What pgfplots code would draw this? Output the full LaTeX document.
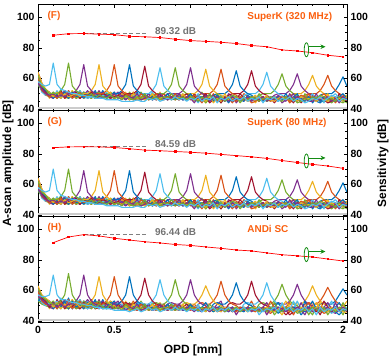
\documentclass[border=0pt]{standalone}
\usepackage{fontspec}
\setmainfont{Liberation Sans}
\usepackage{pgfplots}
\usepackage{pgfplotstable}
\pgfplotsset{compat=1.18}
\usetikzlibrary{arrows.meta}

% MATLAB default line colours
\definecolor{mlblue}{rgb}{0,0.447,0.741}
\definecolor{mlorange}{rgb}{0.85,0.325,0.098}
\definecolor{mlyellow}{rgb}{0.929,0.694,0.125}
\definecolor{mlpurple}{rgb}{0.494,0.184,0.556}
\definecolor{mlgreen}{rgb}{0.466,0.674,0.188}
\definecolor{mllblue}{rgb}{0.301,0.745,0.933}
\definecolor{mldred}{rgb}{0.635,0.078,0.184}
\definecolor{labelorange}{RGB}{250,95,15}
\definecolor{arrowgreen}{RGB}{20,140,20}

% colour of the A-scan with its peak at 0.1*k mm
\colorlet{c1}{mllblue}\colorlet{c2}{mlgreen}\colorlet{c3}{mlpurple}\colorlet{c4}{mlyellow}
\colorlet{c5}{mlorange}\colorlet{c6}{mlblue}\colorlet{c7}{mldred}\colorlet{c8}{mllblue}
\colorlet{c9}{mlgreen}\colorlet{c10}{mlpurple}\colorlet{c11}{mlyellow}\colorlet{c12}{mlorange}
\colorlet{c13}{mlblue}\colorlet{c14}{mldred}\colorlet{c15}{mllblue}\colorlet{c16}{mlgreen}
\colorlet{c17}{mlpurple}\colorlet{c18}{mlyellow}\colorlet{c19}{mlorange}\colorlet{c20}{mlblue}

% A-scans, SuperK panels (F) and (G)
\pgfplotstableread{
x a1 a2 a3 a4 a5 a6 a7 a8 a9 a10 a11 a12 a13 a14 a15 a16 a17 a18 a19 a20
0 58 62 57 64 60 56 63 59 55 61 58 60 57 64 59 56 61 58 60 57
0.025 56 55 53 57 52 55 54 51 56 53 55 52 54 57 53 52 55 53 54 52
0.05 55 53 50 53 50 52 51 49 52 50 52 49 51 50 52 49 50 52 49 51
0.075 56 50 49 51 48 51 48 50 49 48 50 49 48 51 49 48 50 47 50 48
0.1 70 50 50 48 49 47 50 48 51 47 49 48 50 47 49 51 48 49 47 50
0.125 56 50 48 51 47 50 48 52 47 50 48 49 47 51 48 49 50 47 49 48
0.15 53 52 49 47 51 48 52 47 49 48 51 47 49 48 53 47 49 50 48 49
0.175 52 56 48 50 48 51 47 50 48 52 47 51 48 49 47 51 48 47 52 49
0.2 51 70 50 48 52 47 49 51 47 50 48 47 52 48 50 47 51 48 49 47
0.225 50 55 50 49 47 51 48 47 51 48 52 49 47 50 48 49 47 52 48 50
0.25 50 52 52 50 49 48 51 49 47 51 48 47 50 48 52 48 51 47 50 48
0.275 49 50 56 48 51 49 47 52 48 47 49 51 48 47 49 52 48 49 47 50
0.3 49 49 69 50 48 47 50 48 51 49 47 48 51 49 47 48 51 48 49 47
0.325 48 48 55 50 49 50 48 47 49 52 48 50 47 48 51 49 47 49 48 50
0.35 48 50 52 52 48 49 51 48 47 49 51 48 49 52 48 47 49 51 47 48
0.375 47 47 50 56 50 48 47 50 49 47 48 49 51 47 49 51 48 47 49 52
0.4 47 49 49 69 50 49 48 47 51 48 49 47 48 51 47 49 52 48 50 47
0.425 47 48 47 55 50 47 50 49 48 51 47 49 52 48 49 47 48 50 47 49
0.45 46 47 49 52 52 48 49 47 50 47 49 48 47 49 51 48 49 47 48 50
0.475 46 49 48 50 56 50 47 48 49 48 51 47 49 48 47 51 47 49 50 48
0.5 46 47 50 49 69 50 48 50 47 49 48 49 51 47 48 49 51 48 47 49
0.525 46 48 47 48 55 50 49 47 48 51 47 48 47 49 51 47 48 49 48 47
0.55 45 46 49 47 52 52 47 49 47 48 50 47 48 51 47 48 46 47 50 48
0.575 45 49 46 48 50 56 50 47 49 46 48 50 47 48 49 46 48 51 47 49
0.6 45 47 48 46 49 69 50 48 46 49 47 48 50 46 48 51 47 46 48 47
0.625 45 46 47 50 47 55 50 47 48 47 51 46 48 47 46 48 50 47 51 46
0.65 46 48 50 47 46 52 52 49 47 46 48 47 51 48 47 46 48 50 47 48
0.675 45 47 46 48 50 50 56 50 46 48 47 50 46 47 48 51 46 48 47 50
0.7 45 50 47 46 48 49 68 50 48 47 46 48 47 50 46 48 47 46 50 47
0.725 47 46 48 47 46 47 55 50 47 50 48 46 50 47 48 47 50 48 46 48
0.75 46 47 46 50 47 48 52 52 49 46 47 48 46 48 51 46 47 50 47 46
0.775 47 48 47 46 50 46 50 56 50 47 50 47 48 46 47 50 46 47 48 50
0.8 45 46 50 47 47 48 49 67 50 48 46 47 50 47 48 46 48 51 46 47
0.825 46 48 47 48 46 47 48 55 50 47 48 50 46 48 47 47 50 46 48 47
0.85 47 47 46 47 48 50 46 52 52 50 46 47 48 47 50 48 46 47 50 46
0.875 46 50 48 46 47 46 48 50 56 50 47 48 47 50 46 47 48 50 47 48
0.9 48 46 47 48 50 47 47 49 67 50 48 46 50 47 48 46 47 48 46 47
0.925 46 47 50 47 46 48 46 48 55 50 47 50 47 46 47 50 48 46 48 50
0.95 47 48 46 50 47 46 48 47 52 52 49 47 46 48 50 47 46 48 47 46
0.975 45 46 48 46 48 47 50 46 50 56 50 48 47 47 46 48 47 50 46 48
1 47 48 47 48 46 50 47 48 49 67 50 47 48 46 48 47 50 47 48 47
1.025 46 47 44 47 49 46 48 47 48 55 50 46 47 50 47 46 47 45 49 46
1.05 48 45 48 46 47 47 46 50 46 52 52 49 45 47 44 48 46 48 47 49
1.075 45 48 46 47 44 48 47 45 47 50 56 50 48 46 48 51 45 47 46 47
1.1 47 46 49 45 48 46 50 47 44 49 66 50 47 48 46 46 48 44 48 45
1.125 46 50 45 48 46 47 46 48 47 47 55 50 46 44 47 48 49 47 45 48
1.15 48 47 47 44 47 45 48 46 45 49 52 52 49 46 48 45 47 48 50 46
1.175 44 46 48 47 45 49 47 47 50 46 50 56 50 47 46 47 49 45 46 47
1.2 47 48 46 45 47 46 44 48 46 47 49 66 50 48 47 44 47 46 48 49
1.225 46 45 47 50 46 47 48 46 47 45 47 55 50 46 48 47 45 48 46 47
1.25 48 47 45 46 48 44 47 45 48 47 46 52 52 49 46 48 50 46 47 45
1.275 45 49 48 47 46 48 45 47 46 48 47 50 56 50 47 46 48 47 44 48
1.3 47 48 46 48 45 47 46 48 47 44 48 49 65 50 48 47 46 45 48 46
1.325 46 44 47 46 48 46 50 47 45 47 46 47 55 50 46 48 47 48 46 47
1.35 48 47 46 47 46 45 47 46 48 46 47 48 52 52 49 46 45 47 50 48
1.375 45 46 48 45 47 49 46 48 46 48 45 46 50 56 50 47 48 46 48 45
1.4 47 48 45 47 44 47 48 45 47 46 48 47 49 65 50 48 46 47 46 47
1.425 46 47 47 49 45 46 47 48 46 47 44 48 47 55 50 46 48 45 47 48
1.45 48 45 46 46 48 47 45 47 50 45 47 46 48 52 52 49 47 48 46 46
1.475 44 47 48 47 46 45 48 46 47 48 46 47 46 50 56 50 46 47 48 47
1.5 47 46 45 48 47 48 46 47 45 46 49 45 47 49 64 50 48 46 47 45
1.525 46 48 47 46 45 46 47 48 46 47 45 48 46 47 55 50 47 48 45 48
1.55 48 47 46 45 48 47 44 46 48 46 47 46 48 46 52 52 49 46 47 46
1.575 45 46 49 47 46 48 47 45 47 48 46 47 45 48 50 56 50 47 46 48
1.6 47 45 47 48 47 46 48 47 46 44 48 46 47 46 49 63 50 48 47 46
1.625 46 48 45 46 48 50 46 48 47 46 47 48 46 47 47 55 50 46 48 47
1.65 48 46 50 48 45 46 47 46 48 47 45 44 48 45 46 52 52 49 46 47
1.675 45 47 46 47 46 48 44 47 46 50 47 46 47 48 47 50 56 50 47 46
1.7 47 44 48 45 47 46 48 46 47 45 46 48 50 47 48 49 63 50 48 47
1.725 46 45 46 48 49 47 46 48 45 47 48 47 45 44 47 47 55 50 47 48
1.75 44 47 47 46 48 45 47 46 50 46 47 45 48 47 46 48 52 52 49 46
1.775 45 46 45 47 45 48 46 47 46 48 45 50 46 48 47 46 50 56 50 47
1.8 47 48 45 46 47 44 48 45 47 46 48 46 47 45 50 47 49 62 50 48
1.825 46 47 47 45 46 47 45 48 46 50 46 48 45 47 46 48 47 55 50 47
1.85 48 49 46 47 48 45 47 46 48 45 47 46 44 46 47 45 48 52 52 49
1.875 45 48 47 46 50 48 46 47 45 48 46 47 46 48 44 47 46 50 56 50
1.9 47 46 48 45 47 46 44 46 47 46 50 45 47 46 48 46 47 49 62 50
1.925 49 47 45 48 46 47 45 48 46 47 45 48 46 47 46 44 45 47 55 50
1.95 48 45 47 46 48 45 47 50 48 45 47 44 48 45 47 46 48 46 52 52
1.975 45 48 44 47 45 48 46 47 45 48 46 47 45 50 46 47 46 48 50 56
2 47 46 48 45 47 50 48 45 44 46 48 45 47 46 48 45 47 46 49 61
2.025 46 44 46 48 46 47 45 48 46 47 49 48 46 47 45 48 46 47 47 55
}\tabFG

% A-scans, ANDi SC panel (H)
\pgfplotstableread{
x a1 a2 a3 a4 a5 a6 a7 a8 a9 a10 a11 a12 a13 a14 a15 a16 a17 a18 a19 a20
0 57 61 56 63 59 53 62 58 54 60 56 59 55 61 57 53 60 56 58 54
0.025 56 56 54 57 53 56 55 52 56 54 55 52 54 57 53 51 55 53 54 52
0.05 56 54 52 55 51 54 53 50 54 52 53 51 53 52 54 50 52 54 51 53
0.075 57 52 50 53 50 53 49 52 51 49 52 50 49 53 51 49 52 48 51 50
0.1 70 51 52 49 51 48 52 50 53 48 51 49 52 48 50 53 49 51 48 52
0.125 57 51 49 52 48 51 49 53 48 52 49 51 48 54 49 50 52 48 51 49
0.15 54 53 51 48 52 49 54 48 51 49 53 48 51 49 55 48 51 52 49 50
0.175 54 57 49 51 49 53 48 51 49 54 48 52 49 50 48 53 49 48 54 50
0.2 53 71 51 49 54 48 51 53 48 52 49 48 55 49 51 48 53 49 52 48
0.225 52 57 51 51 48 53 49 48 53 49 54 50 48 53 49 51 48 54 49 52
0.25 52 53 53 52 51 49 53 51 48 53 49 48 52 49 54 49 53 48 52 49
0.275 51 51 57 49 53 51 48 54 49 48 51 53 49 48 51 54 49 51 48 50
0.3 51 50 70 51 49 48 52 49 53 51 48 50 53 51 48 49 53 50 51 48
0.325 50 49 57 51 51 52 49 48 51 54 49 52 48 49 53 51 48 51 49 52
0.35 50 52 53 53 49 51 53 49 48 51 53 49 51 54 49 48 51 53 48 49
0.375 49 48 51 57 52 49 48 52 51 48 49 51 53 48 51 53 49 48 51 54
0.4 49 51 50 69 51 51 49 48 53 49 51 48 49 53 48 51 54 49 52 48
0.425 48 49 48 57 51 48 52 51 49 53 48 51 54 49 51 48 49 52 48 51
0.45 48 48 51 53 53 49 51 48 52 48 51 49 48 51 53 49 51 48 49 52
0.475 48 51 49 51 57 52 48 49 51 49 53 48 51 49 48 53 48 51 52 49
0.5 47 48 52 50 69 51 49 52 48 51 49 51 53 48 49 51 53 49 48 51
0.525 47 49 48 49 57 51 51 48 49 53 48 49 48 51 53 48 49 51 49 48
0.55 47 47 50 48 53 53 48 51 48 49 51 48 49 53 48 49 47 48 51 49
0.575 47 51 47 50 51 57 52 48 51 47 49 52 48 49 51 47 49 53 48 51
0.6 46 48 49 47 50 69 51 49 47 51 48 49 51 47 49 52 48 47 49 48
0.625 47 47 48 51 48 57 51 48 49 48 52 47 49 48 47 49 51 48 53 47
0.65 48 49 51 48 47 53 53 51 48 47 49 48 52 49 48 47 49 51 48 49
0.675 46 48 47 49 51 51 57 52 47 49 48 51 47 48 49 53 47 49 48 51
0.7 47 51 48 47 49 50 68 51 49 48 47 49 48 51 47 49 48 47 51 48
0.725 49 47 49 48 47 48 57 51 48 51 49 47 51 48 49 48 51 49 47 49
0.75 47 48 47 51 48 49 53 53 51 47 48 49 47 49 52 47 48 51 48 47
0.775 48 49 48 47 51 47 51 57 52 48 51 48 49 47 48 51 47 48 49 51
0.8 46 47 51 48 48 49 50 67 51 49 47 48 51 48 49 47 49 52 47 48
0.825 47 49 48 49 47 48 49 57 51 48 49 51 47 49 48 48 51 47 49 48
0.85 48 48 47 48 49 51 47 53 53 51 47 48 49 48 51 49 47 48 51 47
0.875 47 51 49 47 48 47 49 51 57 52 48 49 48 51 47 48 49 51 48 49
0.9 49 47 48 49 51 48 48 50 67 51 49 47 51 48 49 47 48 49 47 48
0.925 47 48 51 48 47 49 47 49 57 51 48 51 48 47 48 51 49 47 49 51
0.95 48 49 47 51 48 47 49 48 53 53 51 48 47 49 51 48 47 49 48 47
0.975 46 47 49 47 49 48 51 47 51 57 52 49 48 48 47 49 48 51 47 49
1 48 49 48 49 47 51 48 49 50 67 51 48 49 47 49 48 51 48 49 48
1.025 47 48 46 48 49 47 49 48 49 57 51 47 48 49 48 47 48 47 51 47
1.05 49 47 49 47 48 48 47 51 47 53 53 51 47 48 46 49 47 49 48 49
1.075 46 49 47 48 47 49 48 46 48 51 57 52 49 47 49 48 46 48 47 48
1.1 48 47 48 46 49 52 49 48 47 50 63 51 48 49 47 47 49 47 49 46
1.125 47 51 46 49 47 48 47 49 48 48 57 51 47 48 48 49 47 48 46 49
1.15 49 48 48 47 48 46 49 47 46 49 53 53 51 47 49 46 48 49 48 47
1.175 46 47 49 48 46 49 48 48 49 47 51 57 52 48 47 48 51 46 47 48
1.2 48 49 47 46 48 47 46 49 47 48 50 66 51 49 48 47 53 47 49 51
1.225 47 46 48 49 47 48 49 47 48 46 48 57 51 47 49 48 46 49 47 48
1.25 49 48 46 47 49 47 48 46 49 48 47 53 53 51 47 49 48 47 48 46
1.275 46 47 49 48 47 49 46 48 47 49 48 51 57 52 48 47 49 48 46 49
1.3 48 49 44 49 46 48 47 49 48 47 49 50 65 51 49 48 47 46 49 47
1.325 47 46 48 47 49 47 49 48 46 48 47 48 57 51 47 49 48 49 47 48
1.35 49 48 47 48 47 46 48 47 49 47 48 49 53 53 51 47 46 48 48 49
1.375 46 47 49 46 48 49 47 49 47 49 46 47 51 57 52 48 49 47 49 46
1.4 48 49 46 48 47 48 49 46 48 47 49 48 50 66 51 49 47 48 53 48
1.425 47 48 48 49 46 47 48 49 47 48 47 49 48 57 51 47 49 46 48 49
1.45 49 46 47 47 49 48 46 44 49 46 48 47 49 53 53 51 48 49 47 47
1.475 46 48 49 48 47 46 49 47 48 49 47 48 47 51 57 52 47 48 49 48
1.5 48 47 44 49 48 49 47 48 46 52 49 46 48 50 65 51 49 47 48 46
1.525 47 49 48 47 53 47 48 49 47 48 46 45 47 48 57 51 48 49 46 49
1.55 49 44 47 46 49 48 46 47 52 47 48 47 49 47 53 53 51 47 48 47
1.575 46 47 49 48 47 45 48 46 48 49 47 48 52 49 51 57 52 48 47 49
1.6 52 46 48 49 48 47 49 48 47 46 44 47 48 47 50 64 51 49 48 47
1.625 47 49 46 53 49 48 47 49 48 47 48 49 47 44 48 57 51 47 49 48
1.65 49 47 48 49 46 47 44 47 49 48 46 48 49 46 47 53 53 51 52 48
1.675 46 48 47 48 47 49 46 53 47 49 48 44 48 49 48 51 57 52 48 47
1.7 48 45 49 46 48 47 49 47 48 46 47 49 47 48 53 50 64 51 49 48
1.725 47 46 47 49 47 48 47 49 46 52 49 48 46 47 48 48 57 51 48 44
1.75 49 48 44 47 49 46 48 47 49 47 48 46 53 48 47 49 53 53 51 47
1.775 46 47 49 48 52 49 47 48 44 49 46 48 47 49 48 47 51 57 52 48
1.8 48 49 46 47 48 53 49 46 48 47 49 47 48 46 49 44 50 63 51 49
1.825 44 48 48 49 47 48 46 49 47 48 52 49 46 48 47 49 48 57 51 48
1.85 49 46 47 52 49 46 48 47 49 46 48 47 49 44 48 46 49 53 53 51
1.875 46 49 48 47 46 49 53 48 46 49 47 45 47 49 46 48 47 51 57 52
1.9 48 44 49 46 48 47 49 47 48 52 49 46 48 47 49 47 48 50 62 51
1.925 47 48 46 49 47 48 46 45 47 48 46 49 47 48 53 49 46 48 57 51
1.95 49 46 52 47 49 46 48 47 49 46 48 47 49 46 48 47 45 47 53 53
1.975 46 49 47 48 46 44 47 48 46 49 47 48 52 49 47 48 47 49 51 57
2 48 47 49 46 48 47 49 46 52 47 49 46 48 47 49 44 48 47 50 61
2.025 47 48 47 45 47 48 46 49 47 48 53 49 47 48 46 49 47 48 48 57
}\tabH

% sensitivity (right axis)
\pgfplotstableread{
x s
0.1 88.2
0.2 89.2
0.3 89.32
0.4 88.9
0.5 88.6
0.6 87.5
0.7 87.2
0.8 86.7
0.9 85.6
1.0 84.7
1.1 84.2
1.2 83.6
1.3 82.8
1.4 81.5
1.5 80.7
1.6 78.6
1.7 77.9
1.8 76.8
1.9 75.1
2.0 74.1
}\sensF
\pgfplotstableread{
x s
0.1 84.0
0.2 84.5
0.3 84.59
0.4 84.5
0.5 84.1
0.6 83.3
0.7 82.4
0.8 82.0
0.9 81.5
1.0 81.0
1.1 80.4
1.2 79.6
1.3 78.8
1.4 78.0
1.5 77.0
1.6 75.6
1.7 74.3
1.8 73.1
1.9 72.0
2.0 70.5
}\sensG
\pgfplotstableread{
x s
0.1 91.2
0.2 94.9
0.3 96.44
0.4 95.6
0.5 94.1
0.6 92.9
0.7 91.8
0.8 91.0
0.9 90.0
1.0 89.4
1.1 88.4
1.2 87.5
1.3 86.4
1.4 85.8
1.5 84.5
1.6 83.3
1.7 82.6
1.8 81.8
1.9 80.5
2.0 79.2
}\sensH

\pgfplotsset{
  panel/.style={
    scale only axis, width=309bp, height=106bp,
    xmin=0, xmax=2.026, ymin=39, ymax=108.3,
    xtick={0,0.5,1,1.5,2}, minor x tick num=4,
    ytick={40,60,80,100}, minor y tick num=3,
    tick align=inside, major tick length=3.5bp, minor tick length=2bp,
    xtick pos=both, ytick pos=left,
    tick style={black, line width=0.5bp},
    axis line style={line width=0.6bp},
    tick label style={font=\fontsize{10.5}{12}\selectfont\bfseries},
    /pgf/number format/assume math mode=true,
  },
  senspanel/.style={
    scale only axis, width=309bp, height=106bp,
    xmin=0, xmax=2.026, ymin=39, ymax=108.3,
    axis x line=none, axis y line*=right,
    ytick={40,60,80,100}, minor y tick num=3,
    tick align=inside, major tick length=3.5bp, minor tick length=2bp,
    tick style={black, line width=0.5bp},
    axis line style={line width=0.6bp},
    tick label style={font=\fontsize{10.5}{12}\selectfont\bfseries},
    /pgf/number format/assume math mode=true,
  },
  sens/.style={red, line width=0.7bp, mark=square*, mark size=0.75bp},
  peakline/.style={black!50, line width=0.9bp, dash pattern=on 4bp off 2.5bp},
}
\tikzset{
  peaktext/.style={anchor=base west, text=black!55, font=\fontsize{10}{12}\selectfont\bfseries},
  tagtext/.style={anchor=west, text=labelorange, font=\fontsize{10}{12}\selectfont\bfseries},
}

\newcommand{\ascans}[1]{%
  \addplot[gray!40, line width=2.2bp] coordinates {(0,40.6) (2.03,40.6)};
  \pgfplotsinvokeforeach{20,19,...,1}{%
    \addplot[c##1, line width=1.1bp, line join=round] table[x=x, y=a##1] {#1};}%
}
\newcommand{\marker}[1]{%
  \draw[arrowgreen, line width=0.8bp] (axis cs:1.76,#1) ellipse [x radius=2.2bp, y radius=7bp];
  \draw[arrowgreen, line width=0.8bp, -{Stealth[length=5bp,width=4.5bp]}]
    (axis cs:1.776,#1+2) -- (axis cs:1.885,#1+2);
}

\begin{document}
\begin{tikzpicture}
% (F)
\begin{axis}[panel, at={(0,212bp)}, anchor=south west, xticklabels={}]
  \ascans{\tabFG}
\end{axis}
\begin{axis}[senspanel, at={(0,212bp)}, anchor=south west]
  \addplot[peakline] coordinates {(0.3,89.32) (0.71,89.32)};
  \addplot[sens] table[x=x, y=s] {\sensF};
  \node[peaktext] at (axis cs:0.745,88.6) {89.32 dB};
  \node[tagtext] at (axis cs:0.04,101) {(F)};
  \node[tagtext] at (axis cs:1.35,100) {SuperK (320 MHz)};
  \marker{78.7}
\end{axis}
% (G)
\begin{axis}[panel, at={(0,106bp)}, anchor=south west, xticklabels={}]
  \ascans{\tabFG}
\end{axis}
\begin{axis}[senspanel, at={(0,106bp)}, anchor=south west]
  \addplot[peakline] coordinates {(0.3,84.59) (0.71,84.59)};
  \addplot[sens] table[x=x, y=s] {\sensG};
  \node[peaktext] at (axis cs:0.745,83.9) {84.59 dB};
  \node[tagtext] at (axis cs:0.04,101) {(G)};
  \node[tagtext] at (axis cs:1.35,100) {SuperK (80 MHz)};
  \marker{75.3}
\end{axis}
% (H)
\begin{axis}[panel, at={(0,0)}, anchor=south west]
  \ascans{\tabH}
\end{axis}
\begin{axis}[senspanel, at={(0,0)}, anchor=south west]
  \addplot[peakline] coordinates {(0.3,96.44) (0.71,96.44)};
  \addplot[sens] table[x=x, y=s] {\sensH};
  \node[peaktext] at (axis cs:0.745,95.7) {96.44 dB};
  \node[tagtext] at (axis cs:0.04,101) {(H)};
  \node[tagtext] at (axis cs:1.35,100) {ANDi SC};
  \marker{83.4}
\end{axis}
% shared labels
\node[rotate=90, font=\fontsize{12}{14}\selectfont\bfseries] at (-30bp,159bp) {A-scan amplitude [dB]};
\node[rotate=90, font=\fontsize{12}{14}\selectfont\bfseries] at (345bp,159bp) {Sensitivity [dB]};
\node[font=\fontsize{12}{14}\selectfont\bfseries] at (155bp,-27.5bp) {OPD [mm]};
\pgfresetboundingbox
\path[use as bounding box] (-38bp,-35.5bp) rectangle (352bp,322.5bp);
\end{tikzpicture}
\end{document}
